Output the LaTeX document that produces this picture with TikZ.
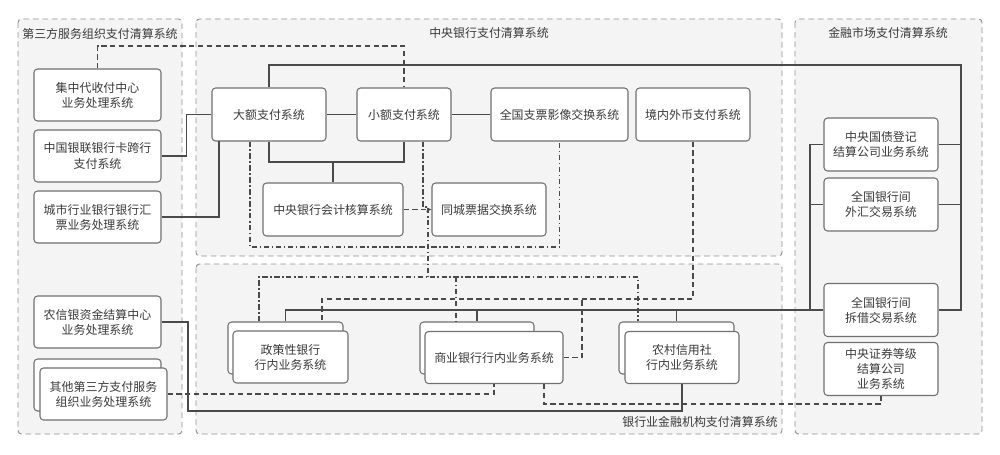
\documentclass[tikz,border=0pt]{standalone}
\usepackage{fontspec}
\setmainfont{Noto Sans CJK SC}
\usetikzlibrary{arrows.meta}
\definecolor{grpfill}{HTML}{F4F4F4}
\definecolor{grpline}{HTML}{929292}
\definecolor{boxline}{HTML}{707070}
\definecolor{lnk}{HTML}{4A4A4A}
\definecolor{txt}{HTML}{3A3A3A}
\tikzset{
  grp/.style={draw=grpline, fill=grpfill, dash pattern=on 3.2pt off 2.2pt, rounded corners=2pt, line width=0.55pt},
  grptitle/.style={text=txt, font=\fontsize{6.8pt}{8.6pt}\selectfont, inner sep=0pt},
  box/.style={draw=boxline, fill=white, rounded corners=2pt, line width=0.6pt, align=center, inner sep=1pt,
     text=txt, font=\fontsize{6.8pt}{8.6pt}\selectfont, minimum height=1.04cm},
  sl/.style={draw=lnk, line width=0.8pt},
  dsh/.style={draw=lnk, line width=0.8pt, dash pattern=on 3pt off 2pt},
  dd/.style={draw=lnk, line width=0.8pt, dash pattern=on 3pt off 1.5pt on 0.8pt off 1.5pt},
}
\begin{document}
\begin{tikzpicture}[x=0.02cm,y=-0.02cm]
\useasboundingbox (0,0) rectangle (1000,454);
% groups
\draw[grp] (18,19) rectangle (182,434);
\draw[grp] (196,19) rectangle (782,256);
\draw[grp] (196,264) rectangle (782,434);
\draw[grp] (795,19) rectangle (982,434);
\node[grptitle, anchor=west] (t1) at (22,34) {第三方服务组织支付清算系统};
\node[grptitle] (t2) at (489,33) {中央银行支付清算系统};
\node[grptitle] (t3) at (888,33) {金融市场支付清算系统};
\node[grptitle, anchor=east] (t4) at (778,422) {银行业金融机构支付清算系统};
% left nodes
\node[box, minimum width=2.54cm] (jz) at (97.5,95) {集中代收付中心\\业务处理系统};
\node[box, minimum width=2.54cm] (yl) at (97.5,156) {中国银联银行卡跨行\\支付系统};
\node[box, minimum width=2.54cm] (cs) at (97.5,217) {城市行业银行银行汇\\票业务处理系统};
\node[box, minimum width=2.54cm] (nx) at (97.5,322) {农信银资金结算中心\\业务处理系统};
\node[box, minimum width=2.54cm] (qtb) at (97.5,385) {};
\node[box, minimum width=2.54cm] (qtf) at (103.5,394) {其他第三方支付服务\\组织业务处理系统};
% central nodes
\node[box, minimum width=2.28cm, minimum height=1.06cm] (de) at (269,114.5) {大额支付系统};
\node[box, minimum width=1.88cm, minimum height=1.06cm] (xe) at (404,114.5) {小额支付系统};
\node[box, minimum width=2.74cm, minimum height=1.06cm] (zp) at (559.5,114.5) {全国支票影像交换系统};
\node[box, minimum width=2.28cm, minimum height=1.06cm] (jn) at (693,114.5) {境内外币支付系统};
\node[box, minimum width=2.80cm, minimum height=1.06cm] (kj) at (333,209.5) {中央银行会计核算系统};
\node[box, minimum width=2.28cm, minimum height=1.06cm] (tc) at (489,209.5) {同城票据交换系统};
% market nodes
\node[box, minimum width=2.28cm, minimum height=1.06cm] (zg) at (881,144.5) {中央国债登记\\结算公司业务系统};
\node[box, minimum width=2.28cm, minimum height=1.06cm] (wh) at (881,204.5) {全国银行间\\外汇交易系统};
\node[box, minimum width=2.28cm, minimum height=1.06cm] (cj) at (881,310) {全国银行间\\拆借交易系统};
\node[box, minimum width=2.28cm, minimum height=1.06cm] (zq) at (881,369) {中央证券等级\\结算公司\\业务系统};
% bank nodes
\node[box, minimum width=2.30cm] (zcb) at (285.5,348) {};
\node[box, minimum width=2.30cm] (zcf) at (290.5,357) {政策性银行\\行内业务系统};
\node[box, minimum width=2.28cm] (syb) at (477,348) {};
\node[box, minimum width=2.76cm] (syf) at (494,357.5) {商业银行行内业务系统};
\node[box, minimum width=2.30cm] (ncb) at (676.5,348) {};
\node[box, minimum width=2.28cm] (ncf) at (682,357.5) {农村信用社\\行内业务系统};
% helper coordinates
\coordinate (tr) at (961,65);
\coordinate (ml) at (810,144.5);
\coordinate (kjT) at (333,162);
\coordinate (c6) at (219,141);
\coordinate (c7) at (188,411);
\coordinate (topd) at (0,46);
\coordinate (d3) at (322,299);
\coordinate (d3b) at (582,299);
\coordinate (d4) at (544,404);
\coordinate (e1) at (250,247);
\coordinate (f1) at (423,207);
\coordinate (f2) at (428,207);
\coordinate (f3) at (428,277);
\coordinate (g1) at (259,277);
\coordinate (g2) at (456,277);
\coordinate (g3) at (638,277);
% solid connectors
\draw[sl] (de.north) |- (tr) |- (cj.east);
\draw[sl] (zg.east) -- (zg.east -| tr);
\draw[sl] (wh.east) -- (wh.east -| tr);
\draw[sl] (zg.west) -- (zg.west -| ml) -- (cj.west -| ml);
\draw[sl] (wh.west) -- (wh.west -| ml);
\draw[sl] (zcb.north) |- (cj.west);
\draw[sl] (syb.north) -- (syb.north |- cj.west);
\draw[sl] (ncb.north) -- (ncb.north |- cj.west);
\draw[sl] (de) -- (xe);
\draw[sl] (xe) -- (zp);
\draw[sl] (de.south) |- (kjT) -| (xe.south);
\draw[sl] (kjT) -- (kj.north);
\draw[sl] (yl.east) -- ++(25,0) |- (de.west);
\draw[sl] (cs.east) -| (c6);
\draw[sl] (nx.east) -| (c7) -| (ncf.south);
% dashed connectors
\draw[dsh] (jz.north) |- (xe.north |- topd) -- (xe.north);
\draw[dsh] (qtf.east) -| (syf.south);
\draw[dsh] (jn.south) |- (d3) -- (d3 |- zcb.north);
\draw[dsh] (syf.east) -| (d3b);
\draw[dsh] (d4 |- syf.south) -- (d4) -| (zq.south);
\draw[dsh, -{Stealth[length=3pt,width=2.6pt]}] (kj.east) -- (tc.west);
% dash-dot connectors
\draw[dd] (de.south -| e1) -- (e1) -| (zp.south);
\draw[dd] (f1 |- xe.south) -- (f1) -- (f2) -- (f3);
\draw[dd] (g1 |- zcb.north) -- (g1) -- (g3) -- (g3 |- ncb.north);
\draw[dd] (g2) -- (g2 |- syb.north);
\end{tikzpicture}
\end{document}
